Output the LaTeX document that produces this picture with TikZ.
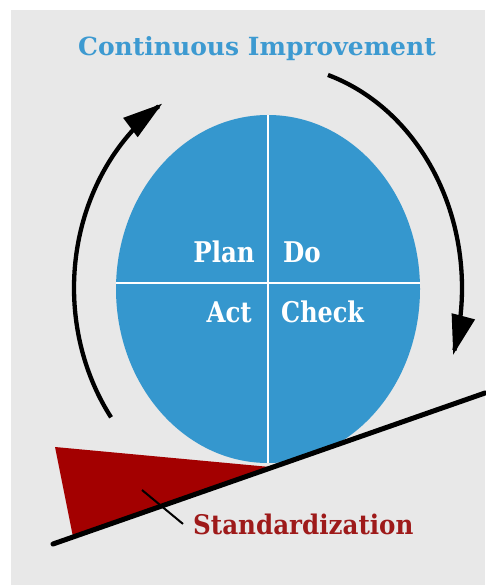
\documentclass[tikz,border=0pt]{standalone}
\usepackage{fontspec}
\setmainfont{DejaVu Serif}
\usetikzlibrary{arrows.meta,shapes.geometric}

\definecolor{bgGray}{HTML}{E8E8E8}
\definecolor{pdcaBlue}{HTML}{3597CE}
\definecolor{titleBlue}{HTML}{3D9AD1}
\definecolor{wedgeRed}{HTML}{A30000}
\definecolor{labelRed}{HTML}{9E1A1A}

% condensed bold lettering
\newcommand{\narrowtext}[2]{\scalebox{#1}[1]{#2}}

\tikzset{
  cyclearrow/.style={line width=4.3pt, -{Triangle[length=40pt,width=23pt]}},
  divider/.style={white, line width=1.8pt},
  quadtext/.style={white, inner sep=0pt, font=\bfseries\fontsize{28.5}{28.5}\selectfont},
  titletext/.style={titleBlue, inner sep=0pt, font=\bfseries\fontsize{25}{25}\selectfont},
  stdtext/.style={labelRed, inner sep=0pt, font=\bfseries\fontsize{27}{27}\selectfont},
}

\begin{document}
\begin{tikzpicture}[x=1pt,y=-1pt]
  \useasboundingbox (0,0) rectangle (485,585);
  \fill[bgGray] (11,10) rectangle (485,585);

  % PDCA disc
  \node[ellipse, fill=pdcaBlue, minimum width=304pt, minimum height=348pt, inner sep=0pt] (cycle) at (268,289) {};
  \begin{scope}
    \clip (268,289) ellipse [x radius=152, y radius=174];
    \draw[divider] (268,100) -- (268,480);
    \draw[divider] (100,283) -- (440,283);
  \end{scope}

  % quadrant labels
  \node[quadtext, anchor=base east] (plan)  at (255,262) {\narrowtext{0.86}{Plan}};
  \node[quadtext, anchor=base west] (do)    at (283,262) {\narrowtext{0.86}{Do}};
  \node[quadtext, anchor=base east] (act)   at (252,322) {\narrowtext{0.86}{Act}};
  \node[quadtext, anchor=base west] (check) at (281,322) {\narrowtext{0.84}{Check}};

  % improvement arrows around the disc
  \draw[cyclearrow] plot[domain=216:123, samples=60, smooth]
    ({268+194*cos(\x)},{288-220*sin(\x)});
  \draw[cyclearrow] plot[domain=72:-17.4, samples=60, smooth]
    ({268+194*cos(\x)},{288-224*sin(\x)});

  \node[titletext, anchor=base] (title) at (257,56) {Continuous Improvement};

  % wedge and slope
  \coordinate (slopeL) at (53,544);
  \coordinate (slopeR) at (485,393);
  \fill[wedgeRed] (55,447) -- (73,537) -- (270,467) -- cycle;
  \draw[line width=5pt, line cap=round] (slopeL) -- (slopeR);

  \node[stdtext, anchor=base west] (std) at (193,534) {\narrowtext{0.91}{Standardization}};
  \coordinate (lead) at (142,490);
  \draw[line width=2pt] (lead) -- ([xshift=-10pt]std.west);
\end{tikzpicture}
\end{document}
